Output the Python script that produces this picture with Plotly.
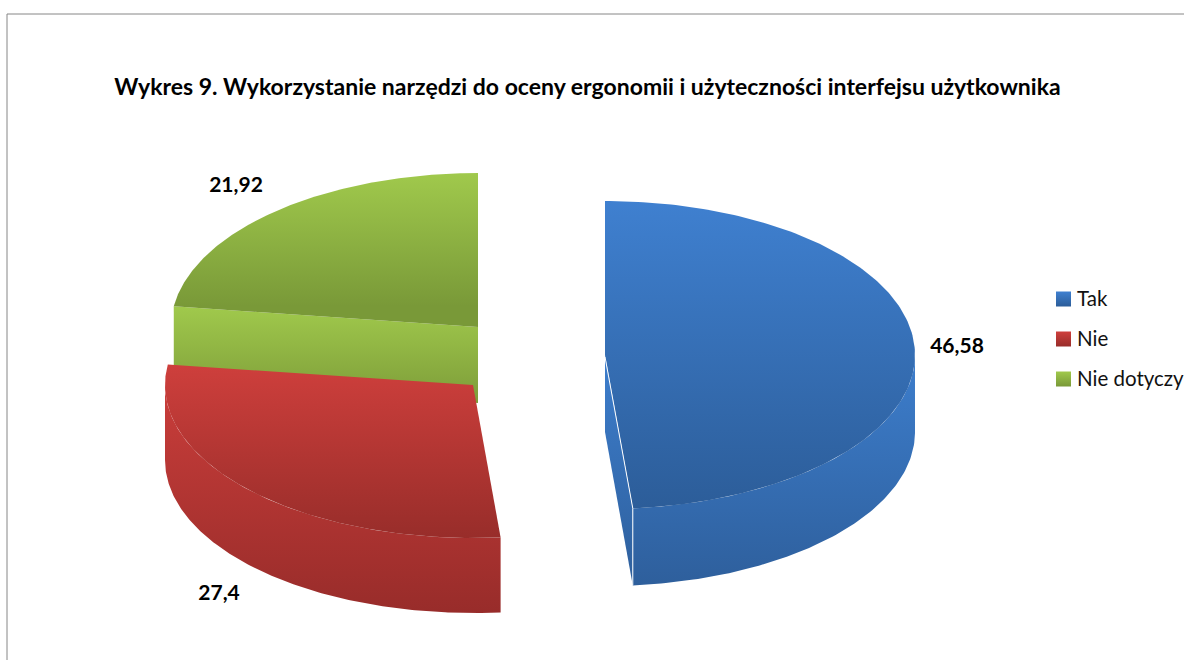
import numpy as np
import plotly.graph_objects as go

CATEGORIES = ["Tak", "Nie", "Nie dotyczy"]
VALUES = [46.58, 27.4, 21.92]
VALUE_LABELS = ["46,58", "27,4", "21,92"]
TITLE = "Wykres 9. Wykorzystanie narzędzi do oceny ergonomii i użyteczności interfejsu użytkownika"

# drawing geometry (page pixels) and styling, kept apart from the data
W, H = 1184, 660
CENTERS = [(605, 355), (473, 385), (478, 327)]
RX = [310, 308, 307]
RY = [154, 153, 154]
DEPTH = [77, 75, 76]
LABEL_XY = [(957, 348), (219, 595), (236, 187)]
KEY_XY = [(1063.5, 299), (1063.5, 339), (1063.5, 379)]
KEY_TEXT_XY = [(1077, 301), (1077, 341), (1077, 381)]
TOP_GRAD = [("#3f80d0", "#2c5d99"), ("#ce3f3c", "#982d2a"), ("#a0c94c", "#799938")]
SIDE_GRAD = [("#3d7ecd", "#2e5f9c"), ("#ce3f3c", "#982c2a"), ("#a0c94c", "#7d9c39")]
FONT = "Lato"


def ellipse(i, theta, dy=0.0):
    t = np.radians(theta)
    cx, cy = CENTERS[i]
    return cx + RX[i] * np.sin(t), cy - RY[i] * np.cos(t) + dy


def gradient(colors, y0, y1):
    return dict(type="vertical", colorscale=[[0, colors[0]], [1, colors[1]]], start=y0, stop=y1)


def polygon(xs, ys, colors, y0, y1):
    return go.Scatter(
        x=xs, y=ys, mode="lines", fill="toself", line=dict(width=0), showlegend=False,
        hoverinfo="skip", fillgradient=gradient(colors, y0, y1),
    )


total = sum(VALUES)
edges = np.concatenate([[0], np.cumsum(VALUES)]) / total * 360
spans = [np.linspace(edges[i], edges[i + 1], 200) for i in range(len(VALUES))]

traces = []
for i in (2, 1, 0):
    cx, cy = CENTERS[i]
    d = DEPTH[i]
    ax, ay = ellipse(i, spans[i])
    # outer rim: only the viewer-facing half of the ellipse sweeps downward
    facing = spans[i][(spans[i] >= 90) & (spans[i] <= 270)]
    if i != 2 and facing.size:
        fx, fy = ellipse(i, facing)
        bx, by = ellipse(i, facing, d)
        traces.append(polygon(np.r_[fx, bx[::-1]], np.r_[fy, by[::-1]], SIDE_GRAD[i],
                              cy if i == 0 else ay.min(), by.max()))
    # visible cut wall
    if i == 2:
        ex, ey = ax[0], ay[0]
        traces.append(polygon([ex, cx, cx, ex], [ey, cy, cy + d, ey + d], SIDE_GRAD[i], ey, cy + d))
    if i == 0:
        ex, ey = ax[-1], ay[-1]
        traces.append(polygon([cx, ex, ex, cx], [cy, ey, ey + d, cy + d], SIDE_GRAD[i], cy, ey + d))
    # top face
    traces.append(polygon(np.r_[cx, ax, cx], np.r_[cy, ay, cy], TOP_GRAD[i], ay.min(), ay.max()))
    if i == 0:
        traces.append(go.Scatter(x=[cx, ex, ex], y=[cy + 2, ey, ey + d], mode="lines",
                                 line=dict(color="white", width=1), showlegend=False, hoverinfo="skip"))

fig = go.Figure(traces)

# value labels
fig.add_trace(go.Scatter(
    x=[p[0] for p in LABEL_XY], y=[p[1] for p in LABEL_XY], text=VALUE_LABELS, mode="text",
    textposition="middle center", textfont=dict(family=FONT, size=21, color="black", weight="bold"),
    showlegend=False, hoverinfo="skip",
))

# legend keys and names
for i, name in enumerate(CATEGORIES):
    fig.add_trace(go.Scatter(
        x=[KEY_XY[i][0]], y=[KEY_XY[i][1]], mode="markers", name=name,
        marker=dict(symbol="square", size=15, color=TOP_GRAD[i][0],
                    gradient=dict(type="vertical", color=TOP_GRAD[i][1]), line=dict(width=0)),
        showlegend=False, hoverinfo="name",
    ))
fig.add_trace(go.Scatter(
    x=[p[0] for p in KEY_TEXT_XY], y=[p[1] for p in KEY_TEXT_XY], text=CATEGORIES, mode="text",
    textposition="middle right", textfont=dict(family=FONT, size=20.5, color="#111111"),
    showlegend=False, hoverinfo="skip", cliponaxis=False,
))

fig.update_layout(
    width=W, height=H, margin=dict(l=0, r=0, t=0, b=0), autosize=False,
    paper_bgcolor="white", plot_bgcolor="white",
    font=dict(family=FONT, color="#111111"),
    title=dict(text=TITLE, x=587.5 / W, xanchor="center", y=1 - 87 / H, yanchor="middle",
               font=dict(family=FONT, size=23, color="black", weight="bold")),
    xaxis=dict(range=[0, W], visible=False, fixedrange=True),
    yaxis=dict(range=[H, 0], visible=False, fixedrange=True),
    showlegend=False,
    shapes=[dict(type="rect", xref="x", yref="y", x0=7, y0=14, x1=W + 20, y1=H + 20,
                 line=dict(color="#868686", width=1), fillcolor="rgba(0,0,0,0)", layer="below")],
)

fig.write_html("out.html", config={"displayModeBar": False},
               post_script="document.body.style.margin='0';document.body.style.overflow='hidden';")
